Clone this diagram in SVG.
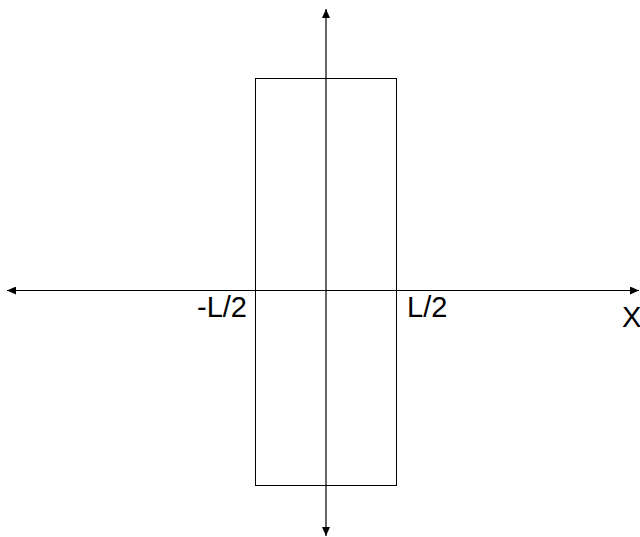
<svg xmlns="http://www.w3.org/2000/svg" width="640" height="537" viewBox="0 0 640 537">
<style>
.ax{stroke:#000;stroke-width:1.2;fill:none}
.lbl{font-family:"Liberation Sans",Arial,sans-serif;font-size:29px;fill:#000}
</style>
<defs>
<marker id="ah" markerWidth="10" markerHeight="8" refX="9" refY="4" orient="auto" markerUnits="userSpaceOnUse">
<path d="M0,0 L9,4 L0,8 Z" fill="#000"/>
</marker>
</defs>
<rect width="640" height="537" fill="#fff"/>
<g id="rect">
<rect x="255.5" y="78.5" width="141" height="407" fill="none" stroke="#000" stroke-width="1"/>
</g>
<g id="connectors">
<line class="ax" x1="326" y1="290" x2="326" y2="9" marker-end="url(#ah)"/>
<line class="ax" x1="326" y1="290" x2="326" y2="536" marker-end="url(#ah)"/>
<line class="ax" x1="326" y1="290.5" x2="7" y2="290.5" marker-end="url(#ah)"/>
<line class="ax" x1="326" y1="290.5" x2="639" y2="290.5" marker-end="url(#ah)"/>
</g>
<g id="labels">
<text class="lbl" x="197" y="317">-L/2</text>
<text class="lbl" x="407" y="317">L/2</text>
<text class="lbl" x="622" y="327">X</text>
</g>
</svg>
